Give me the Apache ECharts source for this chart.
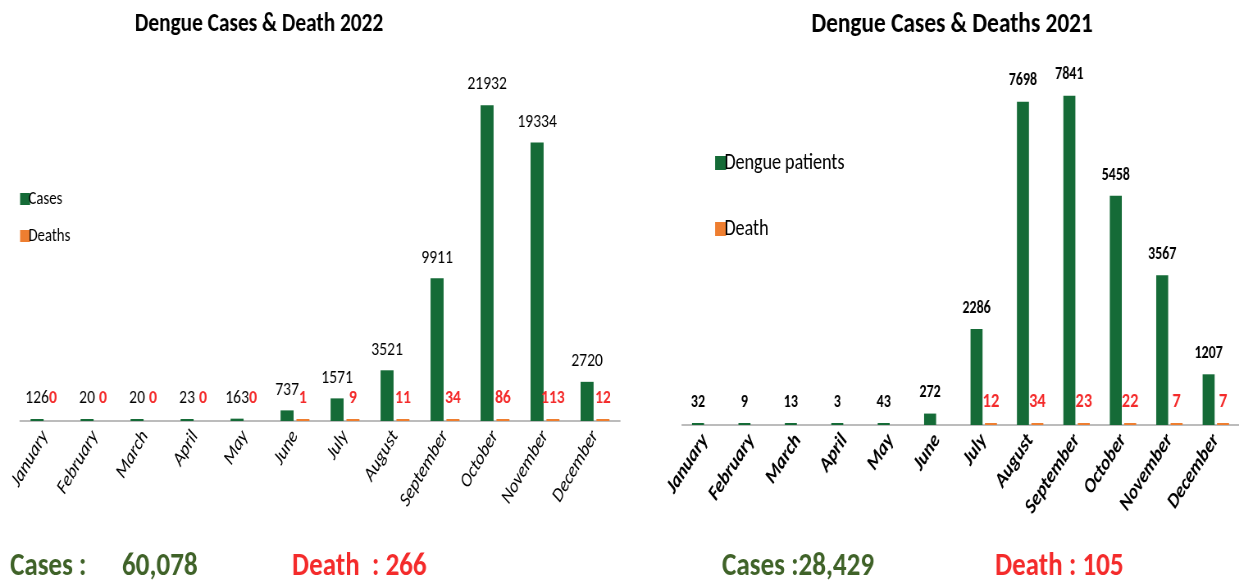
<!DOCTYPE html>
<html>
<head>
<meta charset="utf-8">
<script src="https://cdn.jsdelivr.net/npm/echarts@6/dist/echarts.min.js"></script>
<style>
html,body{margin:0;padding:0;background:#fff;overflow:hidden;width:1239px;height:586px;}
#main{width:1511px;height:586px;transform:scaleX(0.82);transform-origin:0 0;}
</style>
</head>
<body>
<div id="main"></div>
<script>
var months = ['January','February','March','April','May','June','July','August','September','October','November','December'];
var cases2022 = [126, 20, 20, 23, 163, 737, 1571, 3521, 9911, 21932, 19334, 2720];
var deaths2022 = [0, 0, 0, 0, 0, 1, 9, 11, 34, 86, 113, 12];
var cases2021 = [32, 9, 13, 3, 43, 272, 2286, 7698, 7841, 5458, 3567, 1207];
var deaths2021 = [0, 0, 0, 0, 0, 0, 12, 34, 23, 22, 7, 7];
var titles = ['Dengue Cases & Death 2022', 'Dengue Cases & Deaths 2021'];
var totals = {cases2022: '60,078', deaths2022: '266', cases2021: '28,429', deaths2021: '105'};

var SX = 0.82; // horizontal condensation of the original picture
function X(px) { return px / SX; }
var FONT = 'Carlito, Lato, "Liberation Sans", sans-serif';
var GREEN = '#156B37', ORANGE = '#EE7E30', RED = '#F42B2B', OLIVE = '#3F6228';

function zeroHidden(arr) {
  return arr.map(function (v) { return v === 0 ? {value: v, itemStyle: {color: 'transparent'}} : v; });
}

var chart = echarts.init(document.getElementById('main'), null, {renderer: 'canvas'});
chart.setOption({
  backgroundColor: '#fff',
  animation: false,
  textStyle: {fontFamily: FONT},
  title: [
    {text: titles[0], left: X(255), top: 6, textAlign: 'center',
     textStyle: {fontFamily: FONT, fontSize: 26, fontWeight: 'bold', color: '#000'}},
    {text: titles[1], left: X(948), top: 5, textAlign: 'center',
     textStyle: {fontFamily: FONT, fontSize: 28.5, fontWeight: 'bold', color: '#000'}}
  ],
  legend: [
    {data: ['Cases', 'Deaths'], orient: 'vertical', left: X(16), top: 185, itemWidth: X(10), itemHeight: 12,
     itemGap: 19, icon: 'rect', textStyle: {fontFamily: FONT, fontSize: 18, color: '#000', padding: [0,0,0,-7]}},
    {data: ['Dengue patients', 'Death'], orient: 'vertical', left: X(711), top: 147, itemWidth: X(11), itemHeight: 14,
     itemGap: 44, icon: 'rect', textStyle: {fontFamily: FONT, fontSize: 22, color: '#000', padding: [0,0,0,-7]}}
  ],
  grid: [
    {left: X(20), top: 61, width: X(600), height: 360},
    {left: X(682), top: 47, width: X(562), height: 378}
  ],
  xAxis: [
    {gridIndex: 0, type: 'category', data: months,
     axisLine: {lineStyle: {color: '#a6a6a6', width: 1.5}}, axisTick: {show: false},
     axisLabel: {interval: 0, rotate: 55, margin: 12, fontFamily: FONT, fontSize: 20, fontStyle: 'italic', color: '#000'}},
    {gridIndex: 1, type: 'category', data: months,
     axisLine: {lineStyle: {color: '#a6a6a6', width: 1.5}}, axisTick: {show: false},
     axisLabel: {interval: 0, rotate: 52, margin: 12, fontFamily: FONT, fontSize: 21, fontStyle: 'italic', fontWeight: 'bold', color: '#000'}}
  ],
  yAxis: [
    {gridIndex: 0, type: 'value', min: 0, max: 25000, show: false},
    {gridIndex: 1, type: 'value', min: 0, max: 9000, show: false}
  ],
  graphic: [
    {type: 'text', x: X(10), y: 567, style: {text: 'Cases :', fill: OLIVE, font: 'bold 33px ' + FONT, verticalAlign: 'middle'}},
    {type: 'text', x: X(122), y: 567, style: {text: totals.cases2022, fill: OLIVE, font: 'bold 33px ' + FONT, verticalAlign: 'middle'}},
    {type: 'text', x: X(292), y: 567, style: {text: 'Death  : ' + totals.deaths2022, fill: RED, font: 'bold 33px ' + FONT, verticalAlign: 'middle'}},
    {type: 'text', x: X(722), y: 567, style: {text: 'Cases :' + totals.cases2021, fill: OLIVE, font: 'bold 33px ' + FONT, verticalAlign: 'middle'}},
    {type: 'text', x: X(995), y: 567, style: {text: 'Death : ' + totals.deaths2021, fill: RED, font: 'bold 33px ' + FONT, verticalAlign: 'middle'}}
  ],
  series: [
    {name: 'Cases', type: 'bar', xAxisIndex: 0, yAxisIndex: 0, data: cases2022,
     barWidth: X(13), barGap: '22%', barMinHeight: 2, itemStyle: {color: GREEN},
     label: {show: true, position: 'top', distance: 11, fontFamily: FONT, fontSize: 19, color: '#000'}},
    {name: 'Deaths', type: 'bar', xAxisIndex: 0, yAxisIndex: 0, data: zeroHidden(deaths2022),
     barWidth: X(13), barGap: '22%', barMinHeight: 2, itemStyle: {color: ORANGE},
     label: {show: true, position: 'top', distance: 11, fontFamily: FONT, fontSize: 19, fontWeight: 'bold', color: RED}},
    {name: 'Dengue patients', type: 'bar', xAxisIndex: 1, yAxisIndex: 1, data: cases2021,
     barWidth: X(12), barGap: '20%', barMinHeight: 2, itemStyle: {color: GREEN},
     label: {show: true, position: 'top', distance: 12, fontFamily: FONT, fontSize: 17, fontWeight: 'bold', color: '#000'}},
    {name: 'Death', type: 'bar', xAxisIndex: 1, yAxisIndex: 1, data: zeroHidden(deaths2021),
     barWidth: X(12), barGap: '20%', barMinHeight: 2, itemStyle: {color: ORANGE},
     label: {show: true, position: 'top', distance: 11, fontFamily: FONT, fontSize: 20, fontWeight: 'bold', color: RED,
       formatter: function (p) { return p.value ? String(p.value) : ''; }}}
  ]
});
</script>
</body>
</html>
